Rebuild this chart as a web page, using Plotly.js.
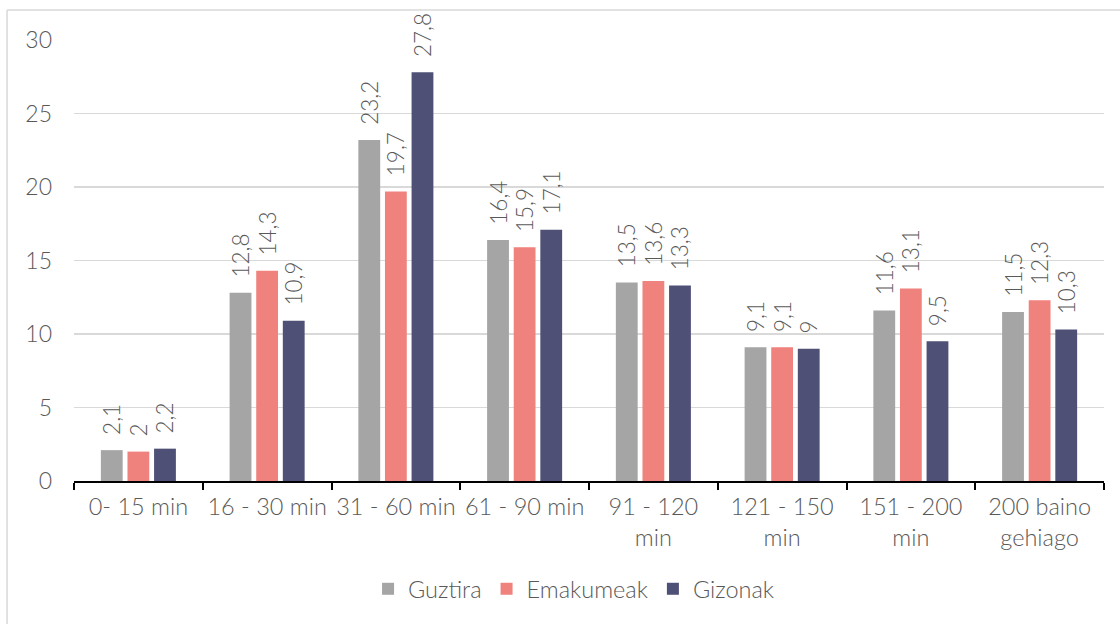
<!DOCTYPE html>
<html>
<head>
<meta charset="utf-8">
<script src="https://cdn.plot.ly/plotly-3.0.1.min.js"></script>
<style>html,body{margin:0;padding:0;background:#fff}#chart{width:1120px;height:624px}</style>
</head>
<body>
<div id="chart"></div>
<script>
const categories = ["0- 15 min", "16 - 30 min", "31 - 60 min", "61 - 90 min", "91 - 120<br>min", "121 - 150<br>min", "151 - 200<br>min", "200 baino<br>gehiago"];
const guztira = [2.1, 12.8, 23.2, 16.4, 13.5, 9.1, 11.6, 11.5];
const emakumeak = [2.0, 14.3, 19.7, 15.9, 13.6, 9.1, 13.1, 12.3];
const gizonak = [2.2, 10.9, 27.8, 17.1, 13.3, 9.0, 9.5, 10.3];
const seriesNames = ["Guztira", "Emakumeak", "Gizonak"];
const seriesColors = ["#A5A5A5", "#F0827E", "#4F5076"];

const FONT = "Lato, 'Open Sans', sans-serif";
const W = 300;
const TXT = "#595959";
const fmt = v => '\u00a0\u00a0' + String(v).replace('.', ',');

const traces = [guztira, emakumeak, gizonak].map((vals, i) => ({
  type: 'bar',
  name: seriesNames[i],
  x: categories,
  y: vals,
  text: vals.map(fmt),
  textposition: 'outside',
  textangle: -90,
  constraintext: 'none',
  cliponaxis: false,
  textfont: {family: FONT, size: 22.5, color: TXT, weight: W},
  marker: {color: seriesColors[i]},
  hoverinfo: 'x+y'
}));

const layout = {
  width: 1120, height: 624,
  margin: {l: 74, r: 16, t: 40, b: 143},
  paper_bgcolor: '#fff', plot_bgcolor: '#fff',
  font: {family: FONT, color: TXT, size: 23, weight: W},
  barmode: 'group',
  bargap: 0.38,
  bargroupgap: 0.18,
  showlegend: true,
  legend: {orientation: 'h', x: 0.485, xanchor: 'center', y: -0.195, yanchor: 'top',
           font: {family: FONT, size: 23.5, color: TXT, weight: W}, itemwidth: 30, traceorder: 'normal'},
  xaxis: {
    type: 'category',
    showline: true, linecolor: '#000', linewidth: 2,
    ticks: 'outside', tickson: 'boundaries', ticklen: 7, tickwidth: 2, tickcolor: '#000',
    ticklabelstandoff: 4,
    tickangle: 0,
    tickfont: {family: FONT, size: 23.5, color: TXT, weight: W},
    showgrid: false, zeroline: false
  },
  yaxis: {
    range: [0, 30], dtick: 5, tick0: 0,
    showgrid: true, gridcolor: '#D9D9D9', gridwidth: 1.5,
    zeroline: false, showline: false, ticks: '',
    ticklabelstandoff: 21,
    tickfont: {family: FONT, size: 23, color: TXT, weight: W}
  },
  shapes: [
    {type: 'line', xref: 'paper', yref: 'paper', x0: -0.065, x1: 1.02, y0: 1.068, y1: 1.068,
     line: {color: '#D9D9D9', width: 1.5}, layer: 'below'},
    {type: 'line', xref: 'paper', yref: 'paper', x0: -0.065, x1: -0.065, y0: 1.068, y1: -0.33,
     line: {color: '#D9D9D9', width: 1.5}, layer: 'below'}
  ]
};

Plotly.newPlot('chart', traces, layout, {displayModeBar: false, staticPlot: true});
</script>
</body>
</html>
